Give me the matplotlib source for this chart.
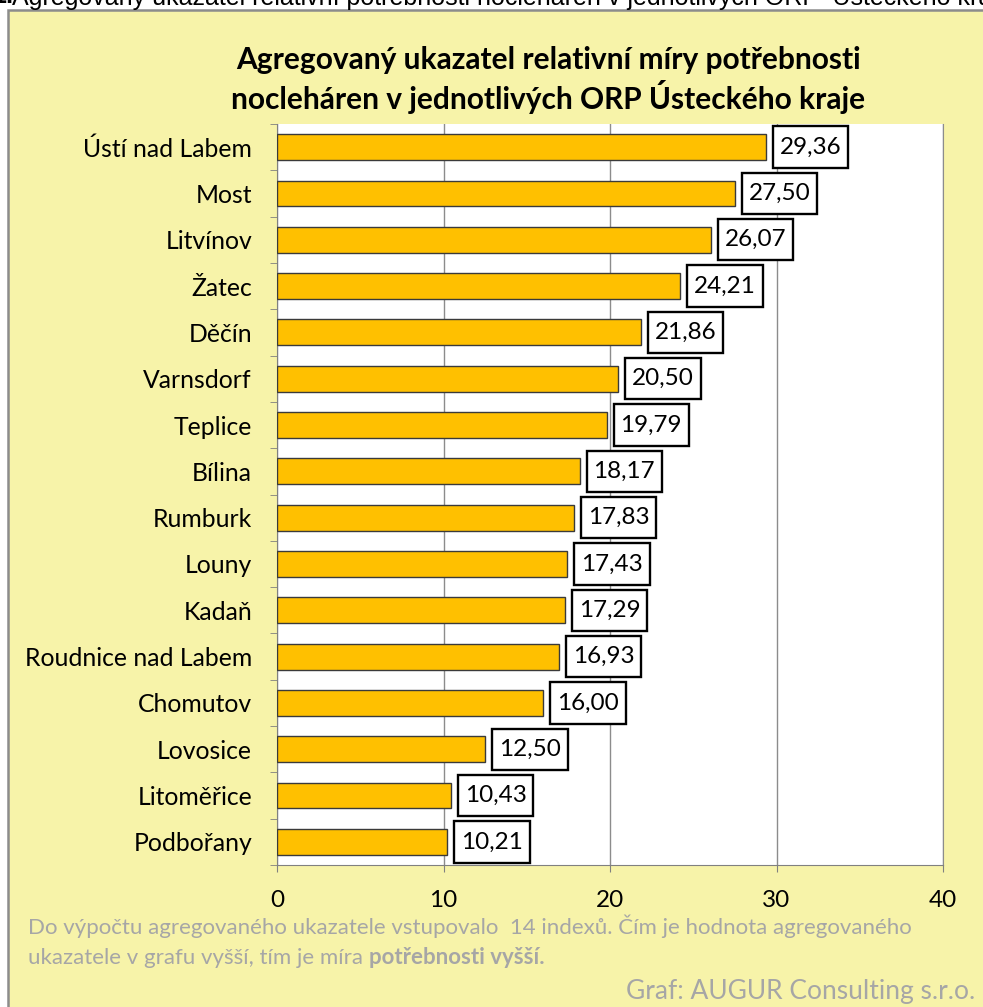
import numpy as np
import matplotlib.pyplot as plt
from matplotlib.patches import Rectangle
from matplotlib.path import Path

# data
orp = ["Ústí nad Labem", "Most", "Litvínov", "Žatec", "Děčín", "Varnsdorf",
       "Teplice", "Bílina", "Rumburk", "Louny", "Kadaň", "Roudnice nad Labem",
       "Chomutov", "Lovosice", "Litoměřice", "Podbořany"]
hodnoty = [29.36, 27.50, 26.07, 24.21, 21.86, 20.50, 19.79, 18.17, 17.83,
           17.43, 17.29, 16.93, 16.00, 12.50, 10.43, 10.21]
x_ticks = [0, 10, 20, 30, 40]

W, H = 983, 1007
fig = plt.figure(figsize=(W / 100, H / 100), dpi=100, facecolor="white")


# label box with more vertical padding than horizontal (like Excel)
def tall_box(x0, y0, width, height, mutation_size):
    px = 0.28 * mutation_size
    py = 0.42 * mutation_size
    x0, y0 = x0 - px, y0 - py
    x1, y1 = x0 + width + 2 * px, y0 + height + 2 * py
    return Path([(x0, y0), (x1, y0), (x1, y1), (x0, y1), (x0, y0)],
                closed=True)


# pale yellow chart area with grey frame
bg = "#F7F3A9"
fig.patches.append(Rectangle((8 / W, -0.1), 1.2, 1.1 - 10 / H,
                             transform=fig.transFigure, facecolor=bg,
                             edgecolor="#8C8C8C", linewidth=1.8, zorder=-5))

# cut-off caption above the chart
fig.text(-8 / W, 1 + 4 / H, "1.", fontsize=18, fontweight="bold",
         family="Liberation Sans", ha="left", va="center")
fig.text(12 / W, 1 + 4 / H,
         "Agregovaný ukazatel relativní potřebnosti nocleháren v jednotlivých ORP  Ústeckého kraje",
         fontsize=18, family="Liberation Sans", ha="left", va="center")

ax = fig.add_axes([277 / W, 1 - 865 / H, 666 / W, 741 / H])
ax.set_facecolor("white")

y = np.arange(len(orp))
ax.barh(y, hodnoty, height=0.56, color="#FFC000", edgecolor="#3A3A3A",
        linewidth=1.0, zorder=3)

for yi, v in zip(y, hodnoty):
    ax.annotate(f"{v:.2f}".replace(".", ","), (v, yi), xytext=(10, 0),
                textcoords="offset points", ha="left", va="center",
                fontsize=17.5, family="Lato", zorder=4,
                bbox=dict(boxstyle=tall_box, facecolor="white",
                          edgecolor="black", linewidth=1.7))

ax.set_xlim(0, 40)
ax.set_ylim(len(orp) - 0.5, -0.5)
ax.set_xticks(x_ticks)
ax.set_yticks(y)
ax.set_yticklabels(orp, fontsize=17.8, family="Lato")
ax.set_yticks(np.arange(len(orp) + 1) - 0.5, minor=True)
ax.tick_params(axis="y", which="major", length=0, pad=18)
ax.tick_params(axis="y", which="minor", length=5, color="#808080")
ax.tick_params(axis="x", length=5, color="#808080", pad=13, labelsize=17.5)
for lab in ax.get_xticklabels():
    lab.set_family("Lato")

ax.grid(axis="x", color="#8C8C8C", linewidth=1.0, zorder=0)
ax.set_axisbelow(True)
ax.spines["top"].set_visible(False)
ax.spines["right"].set_color("#8C8C8C")
ax.spines["left"].set_color("#808080")
ax.spines["bottom"].set_color("#808080")

fig.text(548 / W, 1 - 80 / H,
         "Agregovaný ukazatel relativní míry potřebnosti\nnocleháren v jednotlivých ORP Ústeckého kraje",
         fontsize=21.5, fontweight="bold", family="Lato", ha="center",
         va="center", linespacing=1.2)

grey = "#A6A6A6"
fig.text(28 / W, 1 - 926 / H,
         "Do výpočtu agregovaného ukazatele vstupovalo  14 indexů. Čím je hodnota agregovaného",
         fontsize=16, family="Lato", color=grey, ha="left", va="center")
t2 = fig.text(28 / W, 1 - 958 / H, "ukazatele v grafu vyšší, tím je míra ",
              fontsize=16, family="Lato", color=grey, ha="left", va="center")
r = fig.canvas.get_renderer()
bb = t2.get_window_extent(r)
fig.text(bb.x1 / W, 1 - 958 / H, "potřebnosti vyšší.", fontsize=16,
         family="Lato", fontweight="bold", color=grey, ha="left", va="center")
fig.text(975 / W, 1 - 992 / H, "Graf: AUGUR Consulting s.r.o.", fontsize=19,
         family="Lato", color=grey, ha="right", va="center")

fig.savefig("out.png", dpi=100, facecolor="white")
